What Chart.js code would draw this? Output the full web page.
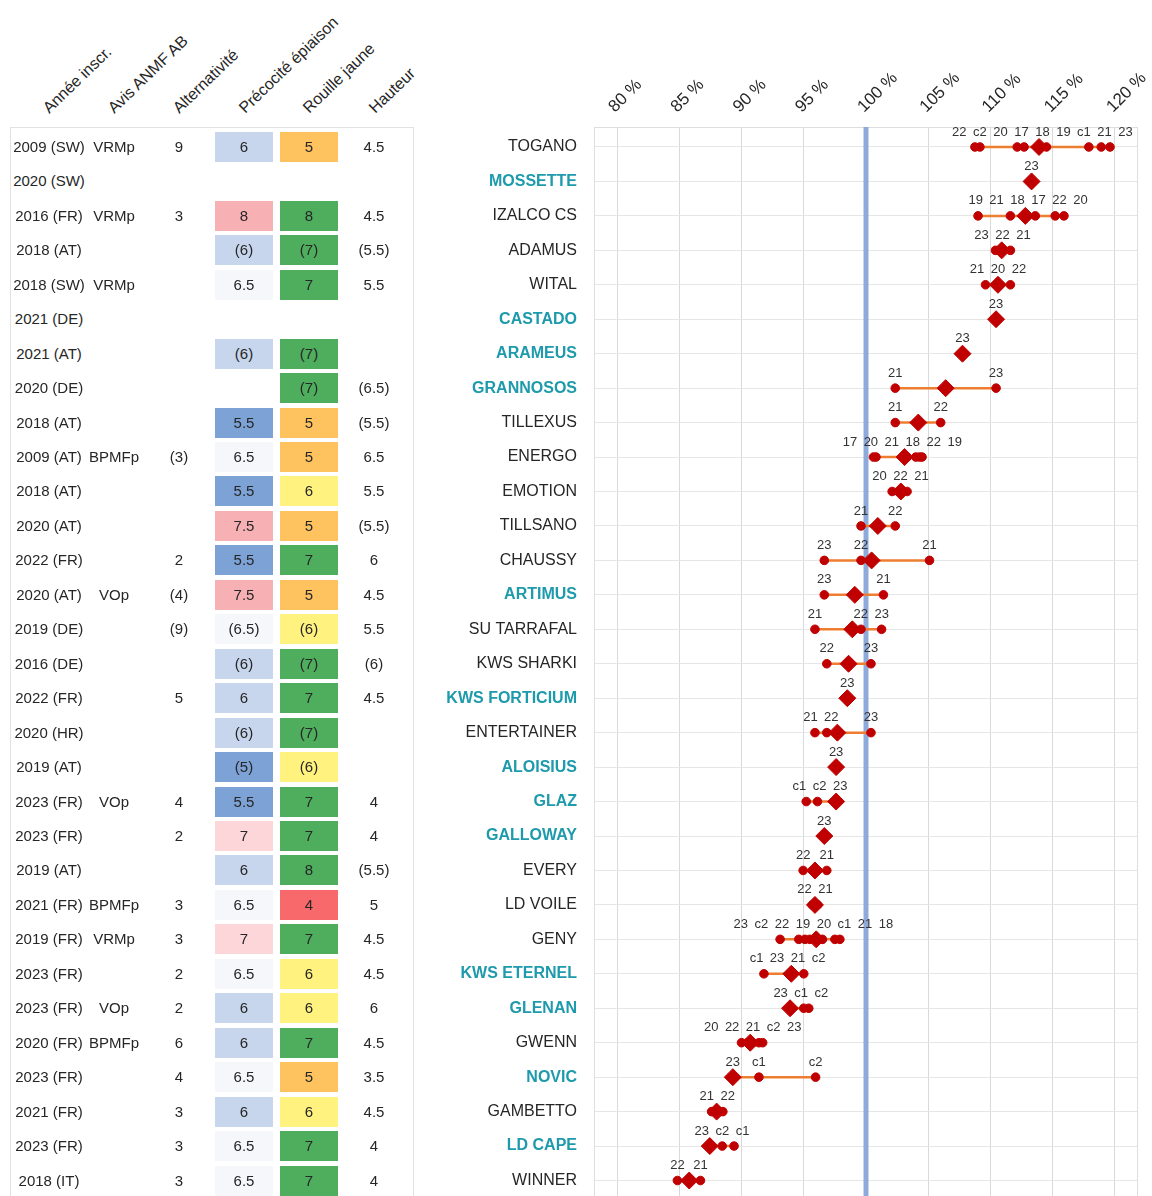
<!DOCTYPE html>
<html><head><meta charset="utf-8">
<script src="https://cdn.jsdelivr.net/npm/chart.js@4/dist/chart.umd.min.js"></script>
<style>
html,body{margin:0;padding:0;background:#fff;overflow:hidden;width:1152px;height:1196px;}
body{position:relative;font-family:"Liberation Sans",Arial,sans-serif;color:#262626;}
#chartWrap{position:absolute;left:420px;top:0;width:732px;height:1210px;}
.hdr{position:absolute;font-size:16px;white-space:nowrap;transform-origin:0 100%;transform:rotate(-44deg);line-height:18px;height:18px;}
.txt{position:absolute;font-size:15px;text-align:center;white-space:nowrap;line-height:18px;width:100px;}
.box{position:absolute;width:58px;height:30px;}
#tableFrame{position:absolute;left:10px;top:127px;width:402px;height:1100px;border:1px solid #e2e2e2;border-bottom:none;}
</style></head><body>
<div id="tableFrame"></div>
<div id="chartWrap"><canvas id="c" width="732" height="1210"></canvas></div>
<script>
// ---------- DATA ----------
const varieties = ["TOGANO","MOSSETTE","IZALCO CS","ADAMUS","WITAL","CASTADO","ARAMEUS","GRANNOSOS","TILLEXUS","ENERGO","EMOTION","TILLSANO","CHAUSSY","ARTIMUS","SU TARRAFAL","KWS SHARKI","KWS FORTICIUM","ENTERTAINER","ALOISIUS","GLAZ","GALLOWAY","EVERY","LD VOILE","GENY","KWS ETERNEL","GLENAN","GWENN","NOVIC","GAMBETTO","LD CAPE","WINNER"];
const newVarieties = ["MOSSETTE","CASTADO","ARAMEUS","GRANNOSOS","ARTIMUS","KWS FORTICIUM","ALOISIUS","GLAZ","GALLOWAY","KWS ETERNEL","GLENAN","NOVIC","LD CAPE"];

const yearLabels = [
  ["22","c2","20","17","18","19","c1","21","23"],
  ["23"],
  ["19","21","18","17","22","20"],
  ["23","22","21"],
  ["21","20","22"],
  ["23"],
  ["23"],
  ["21","23"],
  ["21","22"],
  ["17","20","21","18","22","19"],
  ["20","22","21"],
  ["21","22"],
  ["23","22","21"],
  ["23","21"],
  ["21","22","23"],
  ["22","23"],
  ["23"],
  ["21","22","23"],
  ["23"],
  ["c1","c2","23"],
  ["23"],
  ["22","21"],
  ["22","21"],
  ["23","c2","22","19","20","c1","21","18"],
  ["c1","23","21","c2"],
  ["23","c1","c2"],
  ["20","22","21","c2","23"],
  ["23","c1","c2"],
  ["21","22"],
  ["23","c2","c1"],
  ["22","21"]
];
const yearValues = [
  [108.75,109.15,112.15,112.7,113.9,114.5,117.9,118.9,119.6],
  [113.3],
  [109.0,111.6,112.8,113.6,115.2,115.9],
  [110.4,110.9,111.6],
  [109.6,110.6,111.6],
  [110.45],
  [107.75],
  [102.35,110.45],
  [102.35,106.0],
  [100.6,100.8,103.3,104.0,104.3,104.5],
  [102.1,102.9,103.3],
  [99.6,102.35],
  [96.65,99.6,105.1],
  [96.65,101.4],
  [95.9,99.6,101.25],
  [96.85,100.4],
  [98.5],
  [95.9,96.85,100.4],
  [97.6],
  [95.2,96.1,97.6],
  [96.65],
  [94.95,96.85],
  [95.7,96.1],
  [93.1,94.6,95.1,95.5,96.0,96.5,97.5,97.9],
  [91.8,93.9,94.1,95.0],
  [93.9,95.0,95.4],
  [90.0,90.5,90.9,91.4,91.7],
  [89.3,91.4,95.95],
  [87.6,88.5],
  [87.45,88.45,89.4],
  [84.85,86.7]
];
const meanValues = [113.9,113.3,112.8,110.9,110.6,110.45,107.75,106.4,104.2,103.1,102.8,100.95,100.45,99.1,98.9,98.6,98.5,97.7,97.6,97.6,96.65,95.9,95.9,96.0,94.0,93.9,90.7,89.3,88.0,87.45,85.8];
const xTickValues = [80,85,90,95,100,105,110,115,120];
const referenceValue = 100;

// table columns
const headers = ["Année inscr.","Avis ANMF AB","Alternativité","Précocité épiaison","Rouille jaune","Hauteur"];
const yearInscr = ["2009 (SW)","2020 (SW)","2016 (FR)","2018 (AT)","2018 (SW)","2021 (DE)","2021 (AT)","2020 (DE)","2018 (AT)","2009 (AT)","2018 (AT)","2020 (AT)","2022 (FR)","2020 (AT)","2019 (DE)","2016 (DE)","2022 (FR)","2020 (HR)","2019 (AT)","2023 (FR)","2023 (FR)","2019 (AT)","2021 (FR)","2019 (FR)","2023 (FR)","2023 (FR)","2020 (FR)","2023 (FR)","2021 (FR)","2023 (FR)","2018 (IT)"];
const avisAnmf = ["VRMp","","VRMp","","VRMp","","","","","BPMFp","","","","VOp","","","","","","VOp","","","BPMFp","VRMp","","VOp","BPMFp","","","",""];
const alternativite = ["9","","3","","","","","","","(3)","","","2","(4)","(9)","","5","","","4","2","","3","3","2","2","6","4","3","3","3"];
const precocite = ["6","","8","(6)","6.5","","(6)","","5.5","6.5","5.5","7.5","5.5","7.5","(6.5)","(6)","6","(6)","(5)","5.5","7","6","6.5","7","6.5","6","6","6.5","6","6.5","6.5"];
const rouille = ["5","","8","(7)","7","","(7)","(7)","5","5","6","5","7","5","(6)","(7)","7","(7)","(6)","7","7","8","4","7","6","6","7","5","6","7","7"];
const hauteur = ["4.5","","4.5","(5.5)","5.5","","","(6.5)","(5.5)","6.5","5.5","(5.5)","6","4.5","5.5","(6)","4.5","","","4","4","(5.5)","5","4.5","4.5","6","4.5","3.5","4.5","4","4"];

// ---------- STYLE ----------
const FONT = '"Liberation Sans", Arial, sans-serif';
const TEAL = '#1d9aab';
const DARK = '#262626';
const num = s => parseFloat(String(s).replace(/[()]/g,''));
function precocColor(s){
  const v = num(s); if (isNaN(v)) return null;
  if (v <= 5.5) return '#7da2d6';
  if (v <= 6) return '#c7d6ec';
  if (v <= 6.5) return '#f6f7fb';
  if (v <= 7) return '#fcd6d9';
  return '#f7b1b5';
}
function rouilleColor(s){
  const v = num(s); if (isNaN(v)) return null;
  if (v <= 4) return '#f8696b';
  if (v <= 5) return '#fec35f';
  if (v <= 6) return '#fff27f';
  return '#4fad5e';
}
const isNewRow = c => !!(c && c.tick && newVarieties.includes(varieties[c.tick.value]));

// ---------- CHART ----------
const rowIndex = varieties.map((_, i) => i);
const Y_MIN = -0.58, Y_MAX = 30.58;
const pointData = [];
yearValues.forEach((vals, i) => vals.forEach(v => pointData.push({x: v, y: i})));
const meanData = meanValues.map((v, i) => ({x: v, y: i}));
const rangeSets = yearValues.map((vals, i) => ({
  data: vals.length > 1 ? [{x: Math.min(...vals), y: i}, {x: Math.max(...vals), y: i}] : [],
  showLine: true, borderColor: '#ed7d31', borderWidth: 2.5, pointRadius: 0, order: 3
}));

const framePlugin = {
  id: 'frame',
  beforeDatasetsDraw(chart) {
    const {ctx, chartArea: a} = chart;
    ctx.save(); ctx.strokeStyle = '#dedede'; ctx.lineWidth = 1;
    ctx.strokeRect(a.left + 0.5, a.top + 0.5, a.right - a.left - 1, a.bottom - a.top);
    ctx.restore();
  }
};
const xLabelPlugin = {
  id: 'xLabels',
  afterDraw(chart) {
    const {ctx, chartArea: a, scales: {x}} = chart;
    ctx.save();
    ctx.font = '17px ' + FONT; ctx.fillStyle = DARK;
    ctx.textAlign = 'left'; ctx.textBaseline = 'alphabetic';
    xTickValues.forEach(v => {
      ctx.save();
      ctx.translate(x.getPixelForValue(v) - 2, a.top - 14);
      ctx.rotate(-Math.PI / 4);
      ctx.fillText(v + ' %', 0, 0);
      ctx.restore();
    });
    ctx.restore();
  }
};
const yearLabelPlugin = {
  id: 'yearLabels',
  afterDatasetsDraw(chart) {
    const {ctx, scales: {x, y}} = chart;
    ctx.save();
    ctx.font = '13px ' + FONT;
    ctx.fillStyle = '#333'; ctx.textAlign = 'center'; ctx.textBaseline = 'middle';
    yearValues.forEach((vals, i) => {
      const py = y.getPixelForValue(i) - 15;
      const items = vals.map((v, j) => ({t: yearLabels[i][j], px: x.getPixelForValue(v)})).sort((a, b) => a.px - b.px);
      items.forEach(it => it.w = ctx.measureText(it.t).width + 6.5);
      const clusters = items.map(it => ({items: [it]}));
      const geom = c => {
        const w = c.items.reduce((s, it) => s + it.w, 0);
        const cen = c.items.reduce((s, it) => s + it.px, 0) / c.items.length;
        return {w, l: cen - w / 2, r: cen + w / 2};
      };
      let merged = true;
      while (merged) {
        merged = false;
        for (let k = 1; k < clusters.length; k++) {
          if (geom(clusters[k - 1]).r > geom(clusters[k]).l) {
            clusters[k - 1].items = clusters[k - 1].items.concat(clusters[k].items);
            clusters.splice(k, 1); merged = true; break;
          }
        }
      }
      clusters.forEach(c => {
        const g = geom(c); let cx = g.l;
        c.items.forEach(it => { ctx.fillText(it.t, cx + it.w / 2, py); cx += it.w; });
      });
    });
    ctx.restore();
  }
};

const chart = new Chart(document.getElementById('c'), {
  type: 'scatter',
  data: {
    datasets: [
      {data: meanData, pointStyle: 'rectRot', pointRadius: 8.5, backgroundColor: '#c00000', borderColor: '#c00000', borderWidth: 1, order: 0},
      {data: pointData, pointStyle: 'circle', pointRadius: 4.3, backgroundColor: '#c00000', borderColor: '#c00000', borderWidth: 1, order: 1},
      ...rangeSets,
      {data: [{x: referenceValue, y: Y_MIN}, {x: referenceValue, y: Y_MAX}], showLine: true, borderColor: '#8eaadb', borderWidth: 5, pointRadius: 0, order: 9}
    ]
  },
  options: {
    responsive: false, animation: false, devicePixelRatio: 1,
    layout: {padding: {left: 0, right: 14, top: 0, bottom: 9}},
    plugins: {legend: {display: false}, tooltip: {enabled: false}},
    scales: {
      x: {
        type: 'linear', position: 'top', min: 78.15, max: 121.85,
        afterBuildTicks: s => { s.ticks = xTickValues.map(v => ({value: v})); },
        afterFit: s => { s.height = 127; s.paddingLeft = 0; s.paddingRight = 0; },
        grid: {color: '#d9d9d9', drawTicks: false},
        border: {display: false},
        ticks: {display: false}
      },
      y: {
        type: 'linear', reverse: true, min: Y_MIN, max: Y_MAX,
        afterBuildTicks: s => { s.ticks = rowIndex.map(v => ({value: v})); },
        afterFit: s => { s.width = 174; s.paddingTop = 0; s.paddingBottom = 0; },
        grid: {color: '#e6e6e6', drawTicks: false},
        border: {display: false},
        ticks: {
          autoSkip: false, padding: 17,
          callback: v => varieties[v],
          color: c => isNewRow(c) ? TEAL : DARK,
          font: c => ({family: FONT, size: 16, weight: isNewRow(c) ? 'bold' : 'normal'})
        }
      }
    }
  },
  plugins: [framePlugin, yearLabelPlugin, xLabelPlugin]
});

// ---------- TABLE (aligned on the chart's rows) ----------
const yScale = chart.scales.y;
const canvasTop = 0;
const colCenters = [49, 114, 179, 244, 309, 374];
const hdrAnchors = [52, 117, 182, 248, 312, 378];
headers.forEach((h, k) => {
  const d = document.createElement('div');
  d.className = 'hdr'; d.textContent = h;
  d.style.left = hdrAnchors[k] + 'px'; d.style.top = (117 - 18) + 'px';
  document.body.appendChild(d);
});
function addText(t, cx, cy) {
  if (!t) return;
  const d = document.createElement('div');
  d.className = 'txt'; d.textContent = t;
  d.style.left = (cx - 50) + 'px'; d.style.top = (cy - 9) + 'px';
  document.body.appendChild(d);
}
function addBox(color, cx, cy) {
  if (!color) return;
  const d = document.createElement('div');
  d.className = 'box'; d.style.background = color;
  d.style.left = (cx - 29) + 'px'; d.style.top = (cy - 15) + 'px';
  document.body.appendChild(d);
}
rowIndex.forEach(i => {
  const cy = canvasTop + yScale.getPixelForValue(i);
  addBox(precocColor(precocite[i]), colCenters[3], cy);
  addBox(rouilleColor(rouille[i]), colCenters[4], cy);
  addText(yearInscr[i], colCenters[0], cy);
  addText(avisAnmf[i], colCenters[1], cy);
  addText(alternativite[i], colCenters[2], cy);
  addText(precocite[i], colCenters[3], cy);
  addText(rouille[i], colCenters[4], cy);
  addText(hauteur[i], colCenters[5], cy);
});
</script>
</body></html>
